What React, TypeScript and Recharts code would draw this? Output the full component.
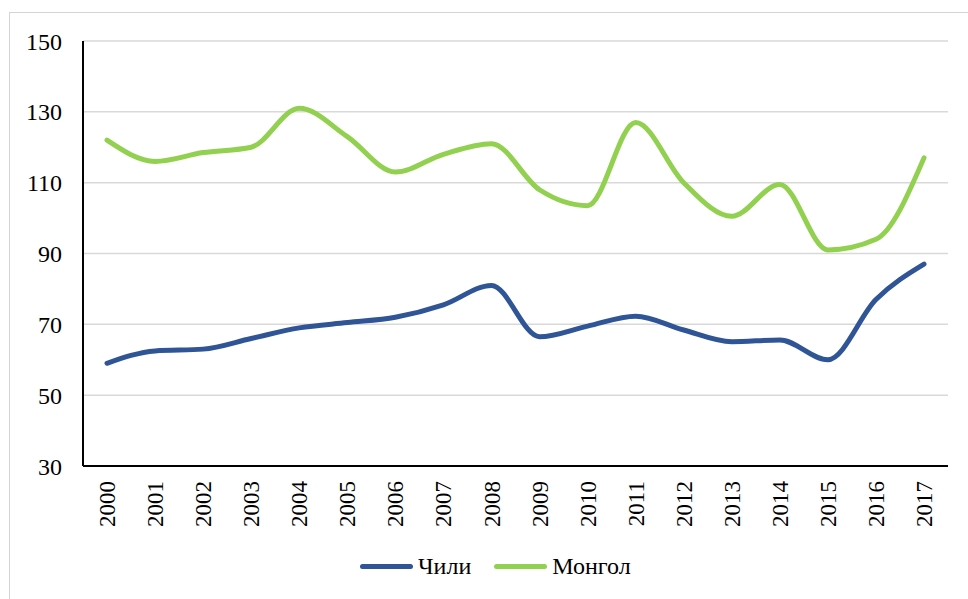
import { LineChart, Line, XAxis, YAxis, CartesianGrid, Legend } from "recharts";

const years = ["2000", "2001", "2002", "2003", "2004", "2005", "2006", "2007", "2008", "2009", "2010", "2011", "2012", "2013", "2014", "2015", "2016", "2017"];
const chile = [59, 62.5, 63, 66, 69, 70.5, 72, 75.5, 81, 66.5, 69.5, 72.3, 68.4, 65.1, 65.6, 60, 77, 87];
const mongolia = [122, 116, 118.5, 120, 131, 123, 113, 118, 121, 108, 103.5, 127, 110, 100.5, 109.5, 91, 94, 117];
const yTicks = [30, 50, 70, 90, 110, 130, 150];

const BLUE = "#2F5597";
const GREEN = "#92D050";
const FONT = '"Liberation Serif", "Times New Roman", serif';

const data = years.map((y, i) => ({ year: y, chile: chile[i], mongolia: mongolia[i] }));

const series = [
  { key: "chile", name: "Чили", color: BLUE },
  { key: "mongolia", name: "Монгол", color: GREEN },
];

function YearTick({ x, y, payload }: any) {
  return (
    <g transform={`translate(${x},${y + 7}) rotate(-90)`}>
      <text x={0} y={0} dy="0.35em" textAnchor="end" style={{ fontFamily: FONT, fontSize: 23 }} fill="#000">
        {payload.value}
      </text>
    </g>
  );
}

function LegendBox() {
  return (
    <div style={{ display: "flex", alignItems: "center", height: 30, paddingLeft: 360, fontFamily: FONT, fontSize: 24, color: "#000" }}>
      {series.map((s, i) => (
        <div key={s.key} style={{ display: "flex", alignItems: "center", marginLeft: i === 0 ? 0 : 23 }}>
          <span style={{ display: "inline-block", width: 53, height: 5, borderRadius: 3, background: s.color, marginRight: 5 }} />
          <span>{s.name}</span>
        </div>
      ))}
    </div>
  );
}

export default function App() {
  return (
    <div style={{ position: "fixed", left: 0, top: 0, width: 968, height: 599, overflow: "hidden", background: "#fff", fontFamily: FONT }}>
      <div style={{ position: "absolute", left: 9, top: 12, width: 980, height: 600, borderTop: "1px solid #d4d4d4", borderLeft: "1px solid #d4d4d4" }} />
      <div style={{ position: "absolute", left: 0, top: 0 }}>
        <LineChart width={968} height={599} data={data} margin={{ top: 41, right: 20, left: 9, bottom: 18 }}>
          <CartesianGrid vertical={false} stroke="#d9d9d9" strokeWidth={1.5} />
          <XAxis
            dataKey="year"
            height={85}
            tick={<YearTick />}
            tickLine={false}
            axisLine={{ stroke: "#000", strokeWidth: 2 }}
            padding={{ left: 24, right: 24 }}
            interval={0}
          />
          <YAxis
            width={74}
            domain={[30, 150]}
            ticks={yTicks}
            tickLine={false}
            tickMargin={15}
            axisLine={{ stroke: "#000", strokeWidth: 2 }}
            tick={{ fontSize: 24, fill: "#000", style: { fontFamily: FONT } }}
            interval={0}
          />
          <Legend verticalAlign="bottom" content={<LegendBox />} wrapperStyle={{ left: 0, width: 968 }} />
          {series.map((s) => (
            <Line
              key={s.key}
              type="monotone"
              dataKey={s.key}
              name={s.name}
              stroke={s.color}
              strokeWidth={5}
              strokeLinecap="round"
              dot={false}
              activeDot={false}
              isAnimationActive={false}
            />
          ))}
        </LineChart>
      </div>
    </div>
  );
}
